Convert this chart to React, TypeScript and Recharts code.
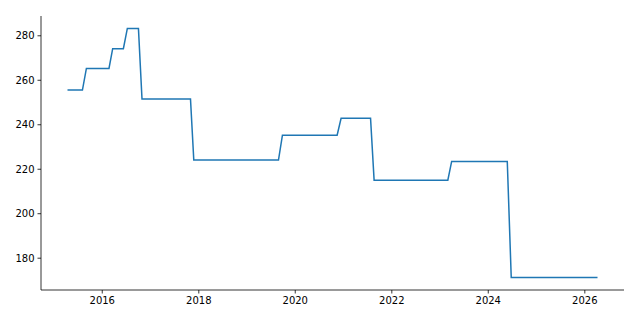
import React from 'react';
import { LineChart, Line, XAxis, YAxis } from 'recharts';

// change points of the series (date, value)
const dates = [
    '2015-04-13', '2015-08-04', '2015-09-03', '2016-02-21', '2016-03-20', '2016-06-09',
    '2016-07-09', '2016-10-01', '2016-10-28', '2017-10-30', '2017-11-24', '2019-08-27',
    '2019-09-26', '2020-11-13', '2020-12-13', '2021-07-24', '2021-08-20', '2023-03-01',
    '2023-03-30', '2024-05-24', '2024-06-23', '2026-04-07'
];
const values = [
    255.6, 255.6, 265.3, 265.3, 274.2, 274.2,
    283.3, 283.3, 251.6, 251.6, 224.1, 224.1,
    235.3, 235.3, 242.9, 242.9, 215.1, 215.1,
    223.5, 223.5, 171.3, 171.3
];
const xTickYears = [2016, 2018, 2020, 2022, 2024, 2026];
const yTicks = [180, 200, 220, 240, 260, 280];

const data = dates.map((d, i) => ({ t: Date.parse(d + 'T00:00:00Z'), v: values[i] }));
const xTicks = xTickYears.map((y) => Date.UTC(y, 0, 1));

// matplotlib-style 5% margins
const pad = (lo: number, hi: number): [number, number] => {
    const r = hi - lo;
    return [lo - r * 0.05, hi + r * 0.05];
};
const xDomain = pad(data[0].t, data[data.length - 1].t);
const yDomain = pad(Math.min(...values), Math.max(...values));

const tickStyle = { fill: '#000', fontSize: 10, fontFamily: 'DejaVu Sans' };

export default function App() {
    return (
        <div style={{ position: 'absolute', left: 0, top: 0, background: '#fff' }}>
            <LineChart width={640} height={320} data={data} margin={{ top: 16, right: 16, bottom: 0, left: 0 }}>
                <XAxis
                    dataKey="t"
                    type="number"
                    scale="linear"
                    domain={xDomain}
                    ticks={xTicks}
                    allowDataOverflow
                    tickFormatter={(t: number) => String(new Date(t).getUTCFullYear())}
                    tick={tickStyle}
                    tickSize={3.5}
                    tickMargin={3}
                    height={30}
                    stroke="#000"
                    strokeWidth={0.8}
                />
                <YAxis
                    dataKey="v"
                    type="number"
                    domain={yDomain}
                    ticks={yTicks}
                    allowDataOverflow
                    tick={tickStyle}
                    tickSize={3.5}
                    tickMargin={3}
                    width={41}
                    stroke="#000"
                    strokeWidth={0.8}
                />
                <Line
                    type="linear"
                    dataKey="v"
                    stroke="#1f77b4"
                    strokeWidth={1.5}
                    dot={false}
                    isAnimationActive={false}
                />
            </LineChart>
        </div>
    );
}
